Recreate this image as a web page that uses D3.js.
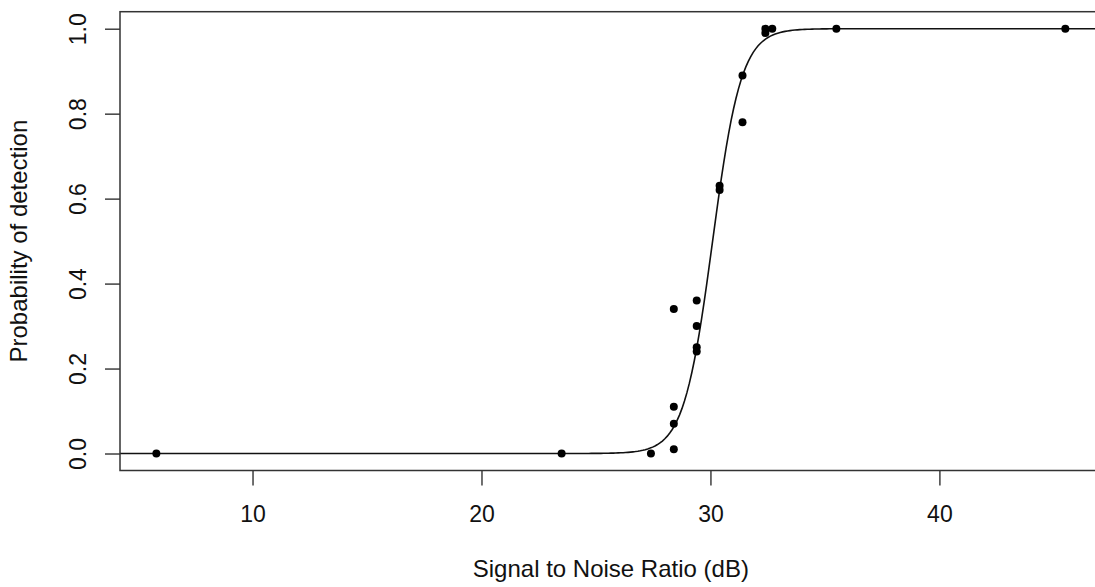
<!DOCTYPE html>
<html>
<head>
<meta charset="utf-8">
<script src="https://cdn.jsdelivr.net/npm/d3@7"></script>
<style>
    html, body { margin: 0; padding: 0; background: #fff; }
    svg { display: block; font-family: "Liberation Sans", Arial, sans-serif; }
</style>
</head>
<body>
<div id="chart" width="1095" height="587"></div>
<script>
// Observed detections (signal to noise ratio in dB, proportion detected)
const snr = [5.8, 23.5, 27.4, 28.4, 28.4, 28.4, 28.4, 29.4, 29.4, 29.4, 29.4,
             30.4, 30.4, 31.4, 31.4, 32.4, 32.4, 32.7, 35.5, 45.5];
const detection = [0.0, 0.0, 0.0, 0.34, 0.11, 0.07, 0.01, 0.36, 0.30, 0.25, 0.24,
                   0.63, 0.62, 0.89, 0.78, 1.0, 0.99, 1.0, 1.0, 1.0];

// Fitted logistic model: logit(p) = intercept + slope * snr
const fitIntercept = -48.0;
const fitSlope = 1.595;

const xTicks = [10, 20, 30, 40];
const yTicks = [0, 0.2, 0.4, 0.6, 0.8, 1.0];

const xLabel = "Signal to Noise Ratio (dB)";
const yLabel = "Probability of detection";

/**
 * Scatter plot with a fitted curve, laid out like base R graphics.
 */
class DetectionChart {

    constructor(options) {
        this.options = options;
        this.container = d3.select(options.element);

        this.svg = this.container.append("svg")
            .attr("width", +options.element.getAttribute("width"))
            .attr("height", +options.element.getAttribute("height"));

        // plot region (the box); the right edge runs just off the page
        this.box = { left: 120, top: 11.7, right: 1101.7, bottom: 470.5 };

        this.BuildScales();
        this.DrawCurve();
        this.DrawPoints();
        this.DrawAxes();
        this.DrawBox();
        this.DrawLabels();
    }

    /**
     * R pads each data range by 4% on both sides
     */
    Padded(values) {
        let [lo, hi] = d3.extent(values);
        let pad = (hi - lo) * 0.04;
        return [lo - pad, hi + pad];
    }

    BuildScales() {
        this.xScale = d3.scaleLinear()
            .domain(this.Padded(snr))
            .range([this.box.left, this.box.right]);

        this.yScale = d3.scaleLinear()
            .domain(this.Padded(detection))
            .range([this.box.bottom, this.box.top]);
    }

    DrawCurve() {
        let [x0, x1] = this.xScale.domain();
        let steps = d3.range(0, 401).map(i => x0 + (x1 - x0) * i / 400);
        let line = d3.line()
            .x(d => this.xScale(d))
            .y(d => this.yScale(1 / (1 + Math.exp(-(fitIntercept + fitSlope * d)))));

        this.svg.append("path")
            .datum(steps)
            .attr("d", line)
            .attr("fill", "none")
            .attr("stroke", "#111")
            .attr("stroke-width", 1.6);
    }

    DrawPoints() {
        this.svg.append("g")
            .selectAll("circle")
            .data(snr.map((s, i) => ({ s: s, p: detection[i] })))
            .join("circle")
            .attr("cx", d => this.xScale(d.s))
            .attr("cy", d => this.yScale(d.p))
            .attr("r", 4)
            .attr("fill", "#000");
    }

    DrawAxes() {
        let tickLength = 15;

        let xAxis = this.svg.append("g")
            .attr("transform", `translate(0, ${this.box.bottom})`)
            .call(d3.axisBottom(this.xScale).tickValues(xTicks).tickSize(tickLength).tickPadding(0));

        xAxis.select(".domain").remove();
        xAxis.selectAll("line").attr("stroke", "#222").attr("stroke-width", 1.3);
        xAxis.selectAll("text")
            .attr("y", 51.5)
            .attr("dy", null)
            .attr("fill", "#111")
            .style("font-size", "23px");

        let yAxis = this.svg.append("g")
            .attr("transform", `translate(${this.box.left}, 0)`)
            .call(d3.axisLeft(this.yScale).tickValues(yTicks).tickSize(tickLength).tickFormat(d3.format(".1f")));

        yAxis.select(".domain").remove();
        yAxis.selectAll("line").attr("stroke", "#222").attr("stroke-width", 1.3);
        // R draws y tick labels parallel to the axis
        yAxis.selectAll("text")
            .attr("transform", "rotate(-90)")
            .attr("x", 0)
            .attr("y", -34)
            .attr("dy", null)
            .attr("text-anchor", "middle")
            .attr("fill", "#111")
            .style("font-size", "23px");
    }

    DrawBox() {
        this.svg.append("rect")
            .attr("x", this.box.left)
            .attr("y", this.box.top)
            .attr("width", this.box.right - this.box.left)
            .attr("height", this.box.bottom - this.box.top)
            .attr("fill", "none")
            .attr("stroke", "#333")
            .attr("stroke-width", 1.5);
    }

    DrawLabels() {
        let midX = (this.box.left + this.box.right) / 2;
        let midY = (this.box.top + this.box.bottom) / 2;

        this.svg.append("text")
            .attr("x", midX)
            .attr("y", 577)
            .attr("text-anchor", "middle")
            .attr("fill", "#111")
            .style("font-size", "24px")
            .text(xLabel);

        this.svg.append("text")
            .attr("transform", `translate(27, ${midY}) rotate(-90)`)
            .attr("text-anchor", "middle")
            .attr("fill", "#111")
            .style("font-size", "24px")
            .text(yLabel);
    }
}

new DetectionChart({ element: document.getElementById("chart") });
</script>
</body>
</html>
